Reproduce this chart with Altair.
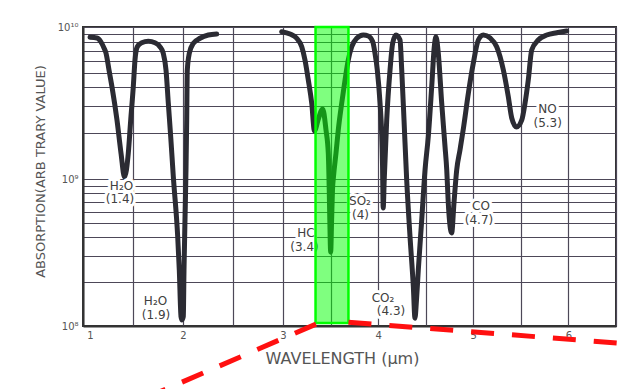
import altair as alt
import pandas as pd

# ---- spectrum (wavelength in um, absorption arb.) ----
seg1_wl = [1.07, 1.14, 1.18, 1.21, 1.23, 1.26, 1.29, 1.34, 1.38, 1.415,
           1.453, 1.477, 1.503, 1.52, 1.543, 1.587, 1.653, 1.72, 1.77, 1.803,
           1.83, 1.853, 1.877, 1.903, 1.947, 1.963, 1.98, 1.99, 2.003,
           2.01, 2.02, 2.03, 2.037, 2.043, 2.063, 2.103, 2.17, 2.253, 2.337]
seg1_abs = [8.56e9, 8.47e9, 7.97e9, 7.28e9, 6.74e9, 5.21e9, 4.03e9, 2.44e9, 1.48e9, 1.03e9,
            1.48e9, 2.44e9, 4.05e9, 6.07e9, 7.41e9, 7.88e9, 8.05e9, 7.88e9, 7.41e9, 6.71e9,
            5.21e9, 3.16e9, 1.90e9, 1.04e9, 4.05e8, 2.40e8, 1.16e8, 1.10e8, 1.16e8,
            2.40e8, 5.26e8, 1.15e9, 2.44e9, 5.21e9, 6.71e9, 7.81e9, 8.43e9, 8.86e9, 8.99e9]

seg2_wl = [2.987, 3.074, 3.144, 3.197, 3.231, 3.266, 3.302, 3.331, 3.368, 3.417,
           3.452, 3.476, 3.486, 3.492, 3.501, 3.511, 3.520, 3.531, 3.557, 3.581,
           3.617, 3.652, 3.686, 3.722, 3.775, 3.844, 3.897, 3.943, 3.967, 3.991,
           4.020, 4.037, 4.046, 4.053, 4.064, 4.090, 4.125, 4.153, 4.188, 4.230,
           4.248, 4.272, 4.300, 4.335, 4.370, 4.387, 4.403, 4.422, 4.458, 4.493,
           4.527, 4.563, 4.590, 4.608, 4.632, 4.668, 4.703, 4.721, 4.737, 4.773,
           4.797, 4.826, 4.860, 4.897, 4.948, 5.000, 5.053, 5.105, 5.176, 5.246,
           5.316, 5.368, 5.404, 5.454, 5.509, 5.544, 5.578, 5.614, 5.683, 5.772,
           5.877, 5.982]
seg2_abs = [9.31e9, 8.99e9, 8.43e9, 7.41e9, 6.07e9, 4.48e9, 3.15e9, 2.07e9, 2.44e9, 2.89e9,
            2.10e9, 1.48e9, 8.41e8, 5.26e8, 3.18e8, 5.26e8, 8.41e8, 1.04e9, 1.48e9, 2.10e9,
            3.15e9, 4.48e9, 6.07e9, 7.41e9, 8.43e9, 8.86e9, 8.73e9, 8.0e9, 6.71e9, 5.21e9,
            3.15e9, 2.0e9, 1.24e9, 6.35e8, 9.85e8, 2.44e9, 5.21e9, 7.85e9, 8.86e9, 8.21e9,
            5.21e9, 2.44e9, 9.85e8, 4.05e8, 1.85e8, 1.13e8, 1.50e8, 2.40e8, 5.26e8, 1.15e9,
            1.90e9, 4.05e9, 7.41e9, 8.63e9, 6.74e9, 3.16e9, 1.63e9, 1.15e9, 6.87e8, 4.30e8,
            6.87e8, 1.15e9, 1.55e9, 2.17e9, 3.66e9, 5.77e9, 8.21e9, 8.86e9, 8.47e9, 7.41e9,
            5.21e9, 3.48e9, 2.52e9, 2.20e9, 2.44e9, 3.16e9, 4.48e9, 7.06e9, 8.21e9, 8.86e9,
            9.17e9, 9.41e9]

# ---- peak annotations ----
label_text = ["H₂O", "(1.4)", "H₂O", "(1.9)", "HC", "(3.4)", "SO₂", "(4)",
              "CO₂", "(4.3)", "CO", "(4.7)", "NO", "(5.3)"]
label_wl = [1.385, 1.37, 1.725, 1.73, 3.242, 3.226, 3.809, 3.815,
            4.051, 4.135, 5.081, 5.06, 5.78, 5.782]
label_abs = [8.96e8, 7.31e8, 1.47e8, 1.18e8, 4.26e8, 3.44e8, 7.08e8, 5.69e8,
             1.56e8, 1.26e8, 6.55e8, 5.26e8, 2.89e9, 2.33e9]

# ---- highlight band and callout lines ----
band_wl = [3.342, 3.688]
band_abs = [1.0e10, 1.05e8]
callout_x = [3.347, 3.688]
callout_y = [1.03e8, 1.06e8]
callout_x2 = [1.67, 6.647]
callout_y2 = [3.34e7, 7.55e7]

x_ticks = [1, 1.5, 2, 2.5, 3, 3.5, 4, 4.5, 5, 5.5, 6, 6.5]
y_ticks = [m * 10 ** e for e in (8, 9) for m in range(1, 10)] + [1e10]

assert len(seg1_wl) == len(seg1_abs) and len(seg2_wl) == len(seg2_abs)

curve = pd.DataFrame({
    "wl": seg1_wl + seg2_wl,
    "abs": seg1_abs + seg2_abs,
    "seg": ["a"] * len(seg1_wl) + ["b"] * len(seg2_wl),
    "ord": list(range(len(seg1_wl) + len(seg2_wl))),
})
labels = pd.DataFrame({"t": label_text, "wl": label_wl, "abs": label_abs})
band = pd.DataFrame({"x": [band_wl[0]], "x2": [band_wl[1]], "y": [band_abs[0]], "y2": [band_abs[1]]})
callouts = pd.DataFrame({"x": callout_x, "y": callout_y, "x2": callout_x2, "y2": callout_y2})

xs = alt.Scale(domain=[1, 3, 6.5], range=[0, 200, 533], nice=False, zero=False)
ys = alt.Scale(type="log", domain=[1e8, 1e9, 1e10], range=[299, 152, 0], nice=False)

FONT = "DejaVu Sans"
GRID = "#4d4858"

x_axis = alt.Axis(
    values=x_ticks, grid=True, gridColor=GRID, gridWidth=1.2, ticks=False,
    domain=True, domainColor="#333333", domainWidth=2,
    labelExpr="datum.value == floor(datum.value) ? format(datum.value, 'd') : ''",
    labelOffset={"condition": {"test": "datum.value == 1", "value": 7}, "value": 0},
    labelFont=FONT, labelFontSize=10, labelColor="#555555", labelPadding=4,
    labelOverlap=False, labelFlush=False,
    title="WAVELENGTH (µm)", titleFont=FONT, titleFontSize=16, titleFontWeight="normal",
    titleColor="#555555", titleX=259, titleY=32, titleAlign="center", titleBaseline="middle",
)
y_axis = alt.Axis(
    values=y_ticks, grid=True, gridColor=GRID, gridWidth=1.2, ticks=False,
    domain=True, domainColor="#333333", domainWidth=2,
    labelExpr="datum.value == 1e10 ? '10¹⁰' : datum.value == 1e9 ? '10⁹' : datum.value == 1e8 ? '10⁸' : ''",
    labelFont=FONT, labelFontSize=10, labelColor="#555555", labelPadding=5,
    labelOverlap=False, labelFlush=False,
    title="ABSORPTION(ARB TRARY VALUE)", titleFont=FONT, titleFontSize=13, titleFontWeight="normal",
    titleColor="#555555", titleAngle=270, titleX=-43, titleY=144, titleAlign="center",
    titleBaseline="middle",
)

line = alt.Chart(curve).mark_line(
    color="#2b2b33", strokeWidth=5, interpolate="monotone", strokeCap="round", strokeJoin="round"
).encode(
    x=alt.X("wl:Q", scale=xs, axis=x_axis),
    y=alt.Y("abs:Q", scale=ys, axis=y_axis),
    detail="seg:N",
    order="ord:Q",
)

text_enc = dict(x=alt.X("wl:Q", scale=xs), y=alt.Y("abs:Q", scale=ys), text="t:N")

halo = alt.Chart(labels).mark_text(
    font=FONT, fontSize=12, color="white", stroke="white", strokeWidth=6,
    strokeJoin="round", align="center", baseline="middle"
).encode(**text_enc)

text = alt.Chart(labels).mark_text(
    font=FONT, fontSize=12, color="#404040", align="center", baseline="middle"
).encode(**text_enc)

rect = alt.Chart(band).mark_rect(
    fill="#00ff00", fillOpacity=0.5, stroke="#00ff00", strokeWidth=2.5
).encode(x=alt.X("x:Q", scale=xs), x2="x2:Q", y=alt.Y("y:Q", scale=ys), y2="y2:Q")

dashes = alt.Chart(callouts).mark_rule(
    color="#ff1010", strokeWidth=5, strokeDash=[23, 18], strokeCap="butt"
).encode(x=alt.X("x:Q", scale=xs), y=alt.Y("y:Q", scale=ys), x2="x2:Q", y2="y2:Q")

chart = alt.layer(line, halo, text, rect, dashes).properties(
    width=533, height=299,
    autosize=alt.AutoSizeParams(type="none"),
    padding={"left": 75, "top": 19, "right": 3, "bottom": 63},
    background="white",
).configure_view(stroke="#333333", strokeWidth=2)

chart.save("out.html", embed_options={"renderer": "svg", "actions": False})
